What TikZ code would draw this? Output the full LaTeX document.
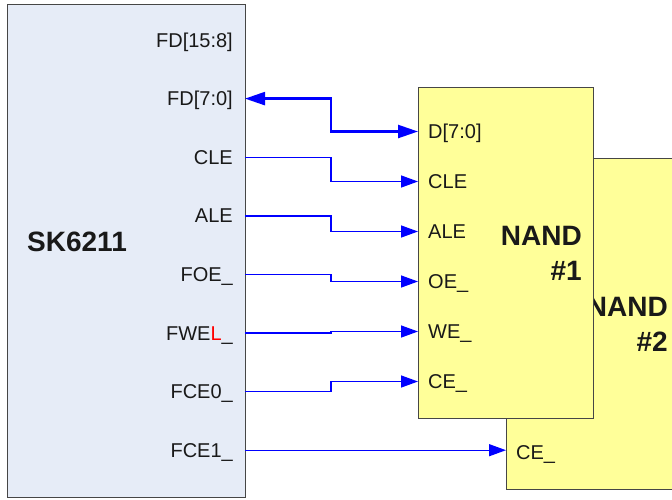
\documentclass[tikz,border=0pt]{standalone}
\usepackage{fontspec}
\setmainfont{Liberation Sans}
\usetikzlibrary{arrows.meta, positioning}
\definecolor{chipblue}{RGB}{230,236,247}
\definecolor{nandyellow}{RGB}{255,255,153}
\definecolor{edgegray}{RGB}{70,70,70}

\begin{document}
\begin{tikzpicture}[x=1pt,y=-1pt,
  chip/.style={draw=edgegray,line width=1.1pt,inner sep=0pt,anchor=north west},
  pin/.style={font=\fontsize{20}{24}\selectfont,text=black!90,inner sep=0pt},
  title/.style={font=\fontsize{28}{35}\selectfont\bfseries,text=black!90,inner sep=0pt,align=right},
  sig/.style={blue,line width=1.4pt,-{Triangle[length=17pt,width=12pt]}},
  bus/.style={blue,line width=2.4pt,{Triangle[length=20pt,width=13pt]}-{Triangle[length=20pt,width=13pt]}}]
\clip (0,0) rectangle (672,499);
\coordinate (jog) at (331,0);

% chips (NAND #2 sits behind NAND #1)
\node[chip,fill=nandyellow,minimum width=200pt,minimum height=331pt] (n2) at (506,158) {};
\node[title,anchor=base east] (n2-title) at (668,351) {NAND\\\#2};
\node[chip,fill=nandyellow,minimum width=175pt,minimum height=331pt] (n1) at (418,87) {};
\node[title,anchor=base east] (n1-title) at (582,280) {NAND\\\#1};
\node[chip,fill=chipblue,minimum width=238pt,minimum height=493pt] (sk) at (7,4) {};
\node[title,anchor=base west] (sk-title) at (27,251) {SK6211};

% SK6211 pins
\foreach \pinname/\pinlabel [count=\k from 0] in {fdhi/{FD[15:8]}, fd/{FD[7:0]}, cle/CLE, ale/ALE,
    oe/FOE\_, we/{FWE\textcolor{red}{L}\_}, ce0/FCE0\_, ce1/FCE1\_}
{
  \pgfmathsetmacro{\pinbase}{47+58.6*\k}
  \node[pin,anchor=base east] (sk-\pinname) at (233,\pinbase) {\pinlabel};
  \coordinate (sk-\pinname-pin) at (245,\pinbase-7);
}

% NAND #1 pins
\foreach \pinname/\pinlabel [count=\k from 0] in {d/{D[7:0]}, cle/CLE, ale/ALE, oe/OE\_, we/WE\_, ce/CE\_}
{
  \pgfmathsetmacro{\pinbase}{138.5+50*\k}
  \node[pin,anchor=base west] (n1-\pinname) at (428,\pinbase) {\pinlabel};
  \coordinate (n1-\pinname-pin) at (418,\pinbase-7);
}
\node[pin,anchor=base west] (n2-ce) at (516,459) {CE\_};

% connections
\draw[bus] (sk-fd-pin) -- (sk-fd-pin -| jog) |- (n1-d-pin);
\foreach \src/\dst in {cle/cle, ale/ale, oe/oe, we/we, ce0/ce}
  \draw[sig] (sk-\src-pin) -- (sk-\src-pin -| jog) |- (n1-\dst-pin);
\draw[sig] (sk-ce1-pin) -- (n2.west |- sk-ce1-pin);
\end{tikzpicture}
\end{document}
